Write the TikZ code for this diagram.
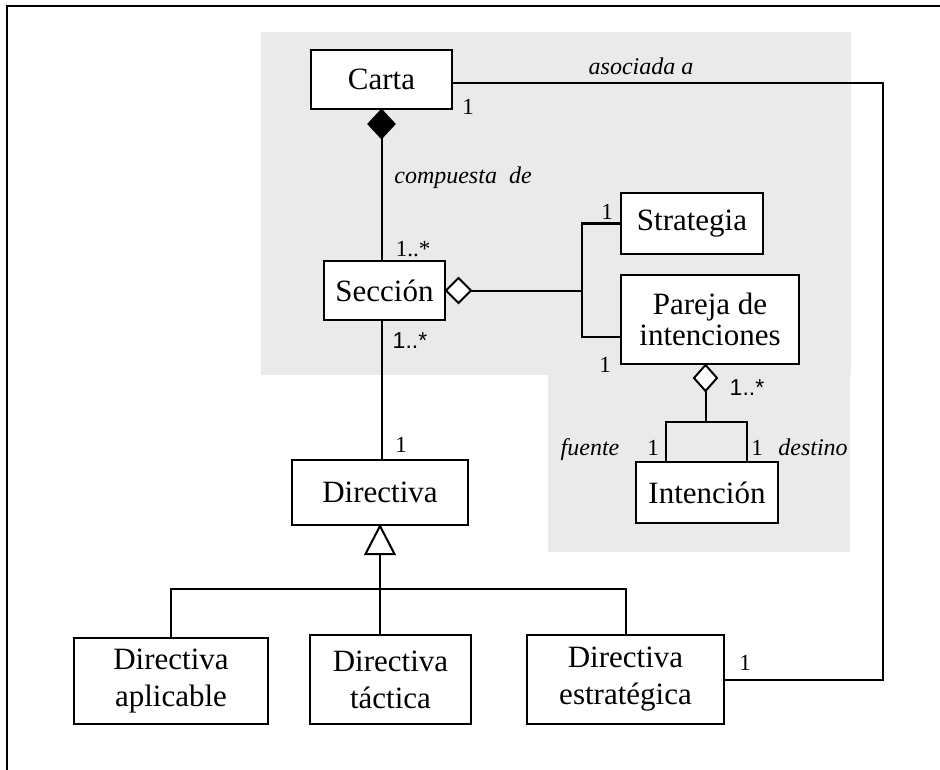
\documentclass[tikz,border=0pt]{standalone}
\usepackage{fontspec}
\setmainfont{Liberation Serif}
\newfontfamily\arialf{Liberation Sans}
\definecolor{bgzone}{HTML}{EAEAEA}
\begin{document}
\begin{tikzpicture}[x=1pt,y=-1pt,
  cls/.style={draw=black, line width=2pt, fill=white, inner sep=0pt, align=center,
              font=\fontsize{31}{31}\selectfont},
  ln/.style={line width=2pt},
  brk/.style={line width=2.8pt},
  mult/.style={font=\fontsize{23}{23}\selectfont, inner sep=0pt, anchor=base},
  multsf/.style={font=\arialf\fontsize{23}{23}\selectfont, inner sep=0pt, anchor=base},
  role/.style={font=\fontsize{24}{24}\selectfont\itshape, inner sep=0pt, anchor=base}]
\useasboundingbox (0,0) rectangle (940,770);
% shaded zones
\fill[bgzone] (261,32) rectangle (851,375);
\fill[bgzone] (548,375) rectangle (850,552);
% frame
\draw[line width=2.2pt] (7,770) -- (7,6) -- (940,6);

% classes
\node[cls, minimum width=141pt, minimum height=59pt] (carta) at (381.5,79.5) {Carta};
\node[cls, minimum width=121pt, minimum height=59pt] (seccion) at (384.5,290.5) {Sección};
\node[cls, minimum width=142pt, minimum height=61pt] (strategia) at (692,223.5) {Strategia};
\node[cls, minimum width=178pt, minimum height=89pt] (pareja) at (710,319.5) {Pareja de\\intenciones};
\node[cls, minimum width=142pt, minimum height=61pt] (intencion) at (707,492.5) {Intención};
\node[cls, minimum width=176pt, minimum height=65pt] (directiva) at (380,492.5) {Directiva};
\node[cls, minimum width=194pt, minimum height=86pt, font=\fontsize{31}{37}\selectfont] (dapl) at (171,681) {Directiva\\aplicable};
\node[cls, minimum width=161pt, minimum height=89pt, font=\fontsize{31}{37}\selectfont] (dtac) at (390.5,679.5) {Directiva\\táctica};
\node[cls, minimum width=197pt, minimum height=89pt, font=\fontsize{31}{37}\selectfont] (destr) at (625.5,679.5) {Directiva\\estratégica};

% composition Carta - Seccion
\draw[ln, fill=black] (carta.south) -- ++(13,14) -- ++(-13,14) coordinate (cd) -- ++(-13,-14) -- cycle;
\draw[ln] (cd) -- (cd |- seccion.north);

% aggregation Seccion - Strategia / Pareja
\draw[ln, fill=white] (seccion.east) -- ++(12.5,-12.5) -- ++(12.5,12.5) coordinate (sd) -- ++(-12.5,12.5) -- cycle;
\coordinate (br) at (582,290.5);
\draw[ln] (sd) -- (br);
\draw[brk] (strategia.west) -| (br) |- ([yshift=-17.5pt]pareja.west);

% aggregation Pareja - Intencion
\draw[ln, fill=white] ([xshift=-4.5pt]pareja.south) -- ++(11.5,13) -- ++(-11.5,13) coordinate (pd) -- ++(-11.5,-13) -- cycle;
\coordinate (jl) at (666,422);
\coordinate (jr) at (747,422);
\draw[ln] (pd) -- (pd |- jl);
\draw[ln] (jl |- intencion.north) -- (jl) -- (jr) -- (jr |- intencion.north);

% Seccion - Directiva
\draw[ln] (seccion.south -| cd) -- (directiva.north -| cd);

% generalization
\draw[ln, fill=white] (directiva.south) -- ++(14.5,28) -- ++(-29,0) -- cycle;
\coordinate (tb) at ([yshift=-28pt]directiva.south);
\coordinate (hbar) at (380,589);
\draw[ln] (tb) -- (tb |- dtac.north);
\draw[ln] (dapl.north) |- (hbar) -| (destr.north);

% association Carta - Directiva estrategica
\coordinate (rc) at (883,400);
\draw[ln] ([yshift=-4pt]carta.east) -| (rc) |- (destr.east);

% labels
\node[role] at (641,75) {asociada a};
\node[mult] at (468,115) {1};
\node[role] at (463,184) {compuesta\ \ de};
\node[mult] at (413,257) {1..*};
\node[multsf] at (410,348) {1..*};
\node[mult] at (607,220) {1};
\node[mult] at (605,372) {1};
\node[multsf] at (747,395) {1..*};
\node[role] at (590,455) {fuente};
\node[mult] at (653,455) {1};
\node[mult] at (757,455) {1};
\node[role] at (813,455) {destino};
\node[mult] at (401,452) {1};
\node[mult] at (745,670) {1};
\end{tikzpicture}
\end{document}
